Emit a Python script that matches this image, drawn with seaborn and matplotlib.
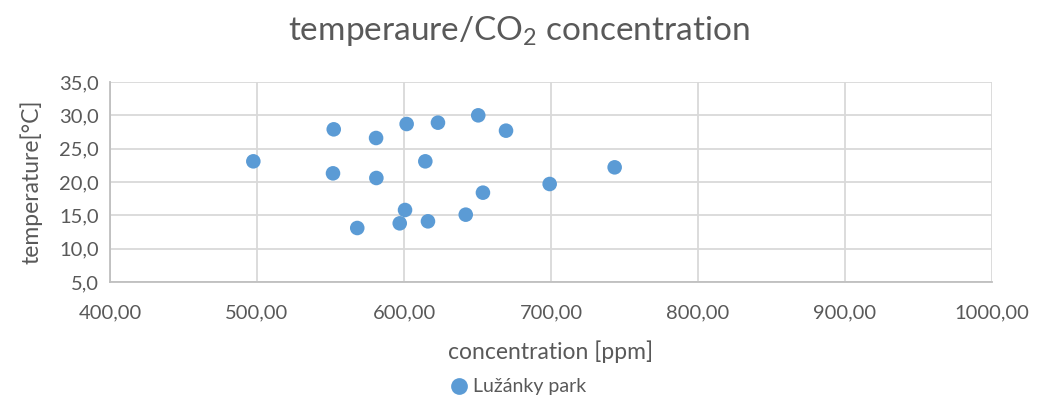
import matplotlib
matplotlib.use("Agg")
import matplotlib.pyplot as plt
import seaborn as sns
import pandas as pd
from matplotlib.ticker import FuncFormatter, MultipleLocator

# CO2 concentration [ppm] and temperature [°C]
concentration = [497.5, 552.2, 581.0, 601.8, 623.1, 650.5, 669.4, 614.5, 551.7,
                 581.2, 743.3, 699.1, 653.7, 600.7, 642.0, 568.2, 597.1, 616.3]
temperature = [23.1, 27.9, 26.6, 28.7, 28.9, 30.0, 27.7, 23.1, 21.3,
               20.6, 22.2, 19.7, 18.4, 15.8, 15.1, 13.1, 13.8, 14.1]
series_name = "Lužánky park"

df = pd.DataFrame({"concentration": concentration, "temperature": temperature,
                   "site": series_name})

sns.set_style("white")
plt.rcParams["font.family"] = ["Lato", "DejaVu Sans"]
plt.rcParams["mathtext.fontset"] = "custom"
plt.rcParams["mathtext.rm"] = "Lato"
text_col = "#595959"

fig, ax = plt.subplots(figsize=(10.37, 3.98), dpi=100)
fig.subplots_adjust(left=110 / 1037, right=992 / 1037, top=1 - 82 / 398, bottom=1 - 282 / 398)

sns.scatterplot(data=df, x="concentration", y="temperature", hue="site",
                palette=["#5b9bd5"], s=110, edgecolor="none", ax=ax, legend=True)

ax.set_xlim(400, 1000)
ax.set_ylim(5, 35)
ax.xaxis.set_major_locator(MultipleLocator(100))
ax.yaxis.set_major_locator(MultipleLocator(5))
ax.xaxis.set_major_formatter(FuncFormatter(lambda v, p: f"{v:.2f}".replace(".", ",")))
ax.yaxis.set_major_formatter(FuncFormatter(lambda v, p: f"{v:.1f}".replace(".", ",")))
ax.grid(True, color="#d9d9d9", linewidth=1.3)
ax.set_axisbelow(True)
for side in ["top", "right"]:
    ax.spines[side].set_visible(False)
for side in ["left", "bottom"]:
    ax.spines[side].set_color("#bfbfbf")
    ax.spines[side].set_linewidth(1.3)
ax.tick_params(axis="both", length=0, labelsize=14.5, labelcolor=text_col)
ax.tick_params(axis="y", pad=8)
ax.tick_params(axis="x", pad=16)

ax.set_xlabel("concentration [ppm]", fontsize=16.5, color=text_col, labelpad=14)
ax.set_ylabel("temperature[°C]", fontsize=16.5, color=text_col, labelpad=12)
fig.suptitle("temperaure/CO$_2$ concentration", fontsize=24, color=text_col, y=0.965)

ax.legend(loc="center", bbox_to_anchor=(0.5, 0.028), bbox_transform=fig.transFigure,
          frameon=False, fontsize=14, labelcolor=text_col, handlelength=0.8,
          handletextpad=0.3, markerscale=1.15, borderaxespad=0)

fig.savefig("out.png", dpi=100)
